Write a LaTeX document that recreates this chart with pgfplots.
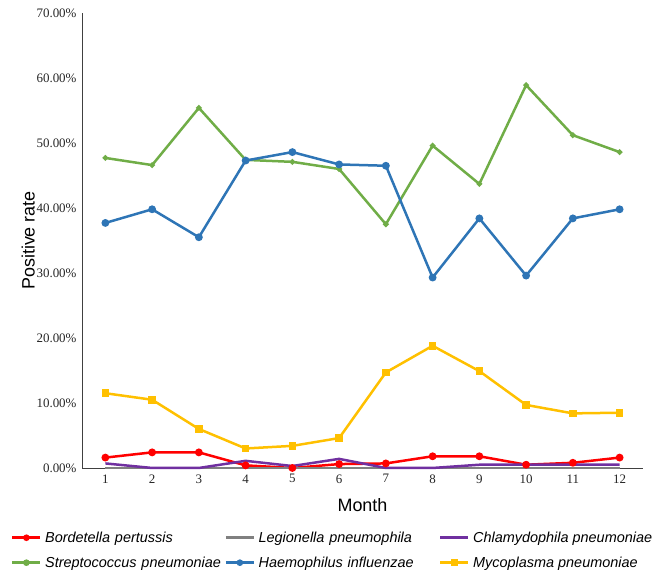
\documentclass[border=0pt]{standalone}
\usepackage{fontspec}
\setmainfont{Liberation Serif}
\setsansfont{Liberation Sans}
\usepackage{pgfplots}
\pgfplotsset{compat=1.18}

\definecolor{cRed}{HTML}{FF0000}
\definecolor{cGray}{HTML}{808080}
\definecolor{cPurple}{HTML}{7030A0}
\definecolor{cGreen}{HTML}{70AD47}
\definecolor{cBlue}{HTML}{2E75B6}
\definecolor{cYellow}{HTML}{FFC000}

\begin{document}
\begin{tikzpicture}
\begin{axis}[
    scale only axis,
    width=561bp, height=455bp,
    xmin=0.5, xmax=12.5,
    ymin=0, ymax=70,
    clip=false,
    axis x line=bottom, axis y line=left,
    axis line style={-, black!75, line width=0.9bp},
    xtick={1,...,12},
    ytick={0,10,...,70},
    major tick length=0pt,
    /pgf/number format/assume math mode=true,
    tick label style={font=\fontsize{13}{15}\selectfont, black!85},
    xticklabel style={yshift=-3bp},
    yticklabel style={xshift=-2bp},
    yticklabel={\pgfmathprintnumber[fixed,fixed zerofill,precision=2]{\tick}\%},
    xlabel={Month},
    ylabel={Positive rate},
    label style={font=\sffamily\fontsize{18}{21}\selectfont},
    xlabel style={at={(axis description cs:0.5,-0.081)}, anchor=center},
    ylabel style={at={(axis description cs:-0.096,0.5)}, anchor=center},
    legend columns=3,
    legend cell align=left,
    legend style={
        at={(axis description cs:-0.132,-0.131)}, anchor=north west,
        draw=none, fill=none,
        font=\sffamily\itshape\fontsize{14.5}{17}\selectfont,
        nodes={inner xsep=0.5bp},
        row sep=9bp,
        /tikz/every odd column/.append style={column sep=3bp},
        /tikz/every even column/.append style={column sep=0bp},
        /tikz/column 2/.append style={text width=179bp},
        /tikz/column 4/.append style={text width=180bp},
    },
    legend image code/.code={
        \draw[mark repeat=2,mark phase=2, mark size=2bp]
            plot coordinates {(0bp,0bp) (14bp,0bp) (28bp,0bp)};
    },
]
% Bordetella pertussis
\addplot[color=cRed, line width=2.5bp, mark=*, mark size=2.6bp]
coordinates {(1,1.6)(2,2.4)(3,2.4)(4,0.4)(5,0)(6,0.6)(7,0.7)(8,1.8)(9,1.8)(10,0.5)(11,0.8)(12,1.6)};
% Legionella pneumophila
\addplot[color=cGray, line width=2.5bp, mark=none]
coordinates {(1,0)(2,0)(3,0)(4,0)(5,0)(6,0)(7,0)(8,0)(9,0)(10,0)(11,0)(12,0)};
% Chlamydophila pneumoniae
\addplot[color=cPurple, line width=2.5bp, mark=none]
coordinates {(1,0.7)(2,0)(3,0)(4,1.1)(5,0.3)(6,1.4)(7,0)(8,0)(9,0.5)(10,0.5)(11,0.5)(12,0.5)};
% Streptococcus pneumoniae
\addplot[color=cGreen, line width=2.5bp, mark=*, mark size=1.4bp]
coordinates {(1,47.7)(2,46.6)(3,55.4)(4,47.4)(5,47.1)(6,46.0)(7,37.5)(8,49.6)(9,43.7)(10,58.9)(11,51.2)(12,48.6)};
% Haemophilus influenzae
\addplot[color=cBlue, line width=2.5bp, mark=*, mark size=2.6bp]
coordinates {(1,37.7)(2,39.8)(3,35.5)(4,47.3)(5,48.6)(6,46.7)(7,46.5)(8,29.3)(9,38.4)(10,29.6)(11,38.4)(12,39.8)};
% Mycoplasma pneumoniae
\addplot[color=cYellow, line width=2.5bp, mark=square*, mark size=2.6bp]
coordinates {(1,11.5)(2,10.5)(3,6.0)(4,3.0)(5,3.4)(6,4.6)(7,14.7)(8,18.8)(9,14.9)(10,9.7)(11,8.4)(12,8.5)};
\legend{Bordetella pertussis, Legionella pneumophila, Chlamydophila pneumoniae,
        Streptococcus pneumoniae, Haemophilus influenzae, Mycoplasma pneumoniae}
% page margins as in the reference
\path (rel axis cs:-0.1462,-0.233) rectangle (rel axis cs:1.0357,1.0286);
\end{axis}
\end{tikzpicture}
\end{document}
